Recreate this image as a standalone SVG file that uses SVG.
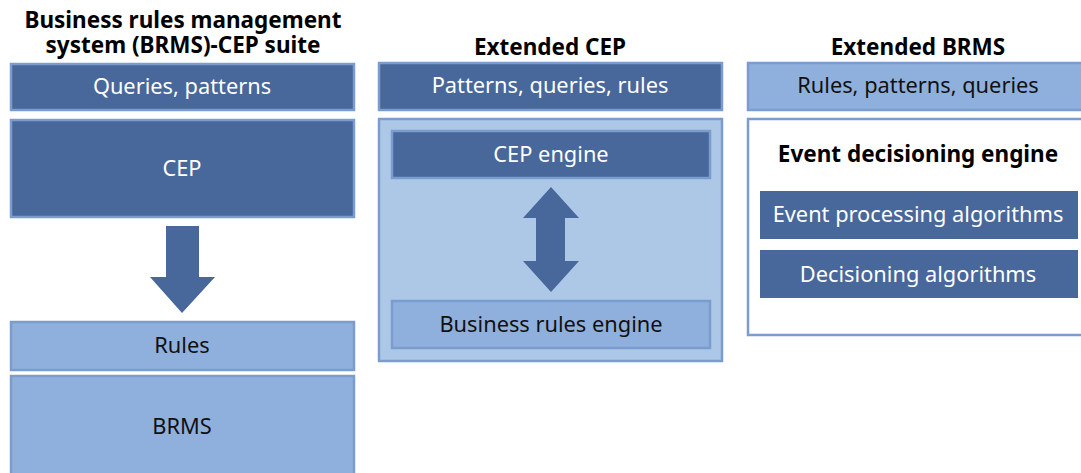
<svg xmlns="http://www.w3.org/2000/svg" width="1081" height="473" viewBox="0 0 1081 473">
  <style>
    .dark { fill: #48679a; stroke: #7b9ccf; stroke-width: 2.5; }
    .light { fill: #8fb0dc; stroke: #7b9ccf; stroke-width: 2.5; }
    .outer { fill: #adc8e7; stroke: #7b9ccf; stroke-width: 2.5; }
    .plain { fill: #ffffff; stroke: #7b9ccf; stroke-width: 2.5; }
    .solid { fill: #48679a; }
    .arrow { fill: #48679a; }
    text { font-family: "Noto Sans", "Liberation Sans", Arial, sans-serif; text-anchor: middle; }
    .title { font-size: 22.5px; font-weight: bold; fill: #000000; }
    .wt { font-size: 21.8px; fill: #ffffff; }
    .bt { font-size: 21.8px; fill: #111111; }
  </style>

  <!-- Column 1: BRMS-CEP suite -->
  <g id="title-suite">
    <text class="title" x="183" y="28">Business rules management</text>
    <text class="title" x="183" y="53">system (BRMS)-CEP suite</text>
  </g>
  <g id="suite-queries">
    <rect class="dark" x="11" y="64" width="343" height="46"/>
    <text class="wt" x="182" y="94">Queries, patterns</text>
  </g>
  <g id="suite-cep">
    <rect class="dark" x="11" y="120" width="343" height="97"/>
    <text class="wt" x="182" y="176">CEP</text>
  </g>
  <g id="suite-rules">
    <rect class="light" x="11" y="322" width="343" height="48"/>
    <text class="bt" x="182" y="353">Rules</text>
  </g>
  <g id="suite-brms">
    <rect class="light" x="11" y="376" width="343" height="110"/>
    <text class="bt" x="182" y="434">BRMS</text>
  </g>

  <!-- Column 2: Extended CEP -->
  <g id="title-ext-cep">
    <text class="title" x="550" y="55">Extended CEP</text>
  </g>
  <g id="ext-cep-patterns">
    <rect class="dark" x="379" y="63" width="343" height="47"/>
    <text class="wt" x="550" y="93">Patterns, queries, rules</text>
  </g>
  <g id="ext-cep-container">
    <rect class="outer" x="379" y="119" width="343" height="242"/>
  </g>
  <g id="ext-cep-engine">
    <rect class="dark" x="392" y="131" width="318" height="47"/>
    <text class="wt" x="551" y="162">CEP engine</text>
  </g>
  <g id="ext-cep-bre">
    <rect class="light" x="392" y="301" width="318" height="47"/>
    <text class="bt" x="551" y="332">Business rules engine</text>
  </g>

  <!-- Column 3: Extended BRMS -->
  <g id="title-ext-brms">
    <text class="title" x="918" y="55">Extended BRMS</text>
  </g>
  <g id="ext-brms-rules">
    <rect class="light" x="748" y="63" width="345" height="47"/>
    <text class="bt" x="918" y="93">Rules, patterns, queries</text>
  </g>
  <g id="ext-brms-engine">
    <rect class="plain" x="748" y="119" width="345" height="216"/>
    <text class="title" x="918" y="162">Event decisioning engine</text>
  </g>
  <g id="ext-brms-epa">
    <rect class="solid" x="760" y="191" width="318" height="48"/>
    <text class="wt" x="918" y="222">Event processing algorithms</text>
  </g>
  <g id="ext-brms-da">
    <rect class="solid" x="760" y="250" width="318" height="48"/>
    <text class="wt" x="918" y="282">Decisioning algorithms</text>
  </g>

  <!-- Connectors -->
  <g id="connectors">
    <polygon class="arrow" points="166,226 199,226 199,277 215,277 182,313 150,277 166,277"/>
    <polygon class="arrow" points="551,187 579,218 565,218 565,261 579,261 551,292 523,261 536,261 536,218 523,218"/>
  </g>
</svg>
